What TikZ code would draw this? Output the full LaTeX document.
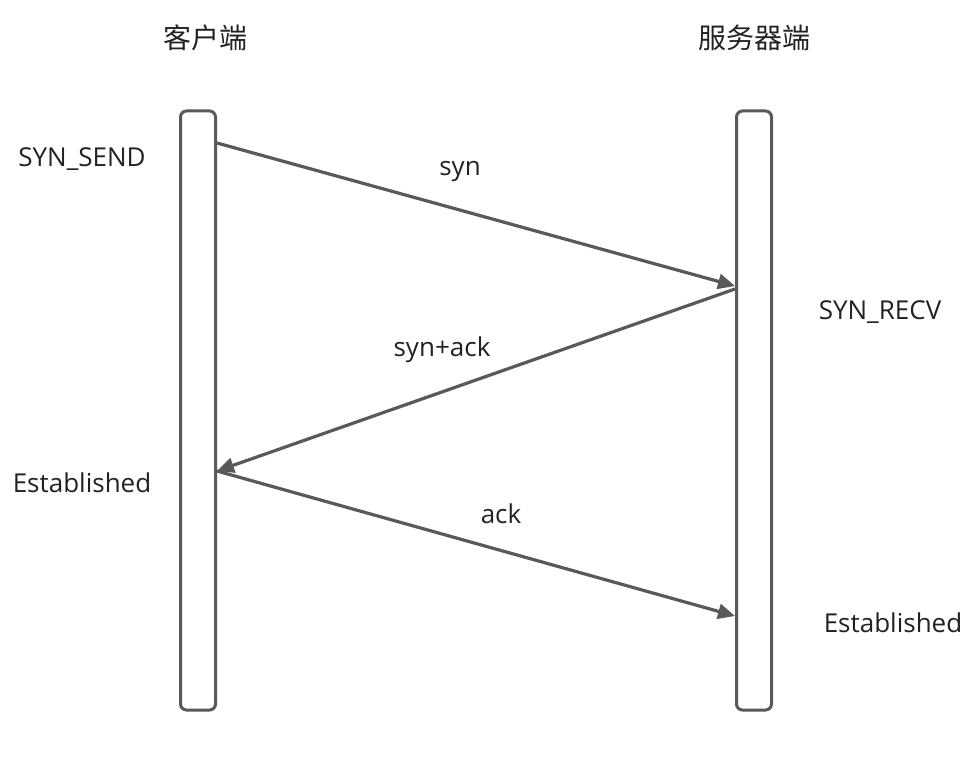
\documentclass[tikz,border=0pt]{standalone}
\usepackage{fontspec}
\setmainfont{Open Sans}
\newfontfamily\cjk{Noto Sans CJK SC}
\usetikzlibrary{arrows.meta}
\definecolor{lc}{HTML}{595959}
\definecolor{tc}{HTML}{222222}
\begin{document}
\begin{tikzpicture}[x=1pt,y=-1pt,
  bar/.style={draw=lc,line width=3pt,rounded corners=6pt},
  msg/.style={draw=lc,line width=3.2pt,-{Triangle[length=17pt,width=15pt]}},
  lbl/.style={font=\fontsize{26}{30}\selectfont,text=tc,inner sep=0pt},
  hdr/.style={font=\cjk\fontsize{28}{32}\selectfont,text=tc,inner sep=0pt}]
\useasboundingbox (0,0) rectangle (977,781);
\draw[bar] (180.5,111) rectangle (215.5,710);
\draw[bar] (736.5,111) rectangle (771.5,710);
\coordinate (c1) at (217,143);
\coordinate (s1) at (735,286);
\coordinate (s2) at (735,289);
\coordinate (c2) at (217,471);
\coordinate (c3) at (217,471);
\coordinate (s3) at (735,616);
\draw[msg] (c1) -- (s1);
\draw[msg] (s2) -- (c2);
\draw[msg] (c3) -- (s3);
\node[hdr] (h1) at (205,38) {客户端};
\node[hdr] (h2) at (754,38) {服务器端};
\node[lbl] (t1) at (82,159) {SYN\_SEND};
\node[lbl] (t2) at (460,172) {syn};
\node[lbl] (t3) at (880,312) {SYN\_RECV};
\node[lbl] (t4) at (442,350) {syn+ack};
\node[lbl] (t5) at (82,483) {Established};
\node[lbl] (t6) at (501,514) {ack};
\node[lbl] (t7) at (893,623) {Established};
\end{tikzpicture}
\end{document}
